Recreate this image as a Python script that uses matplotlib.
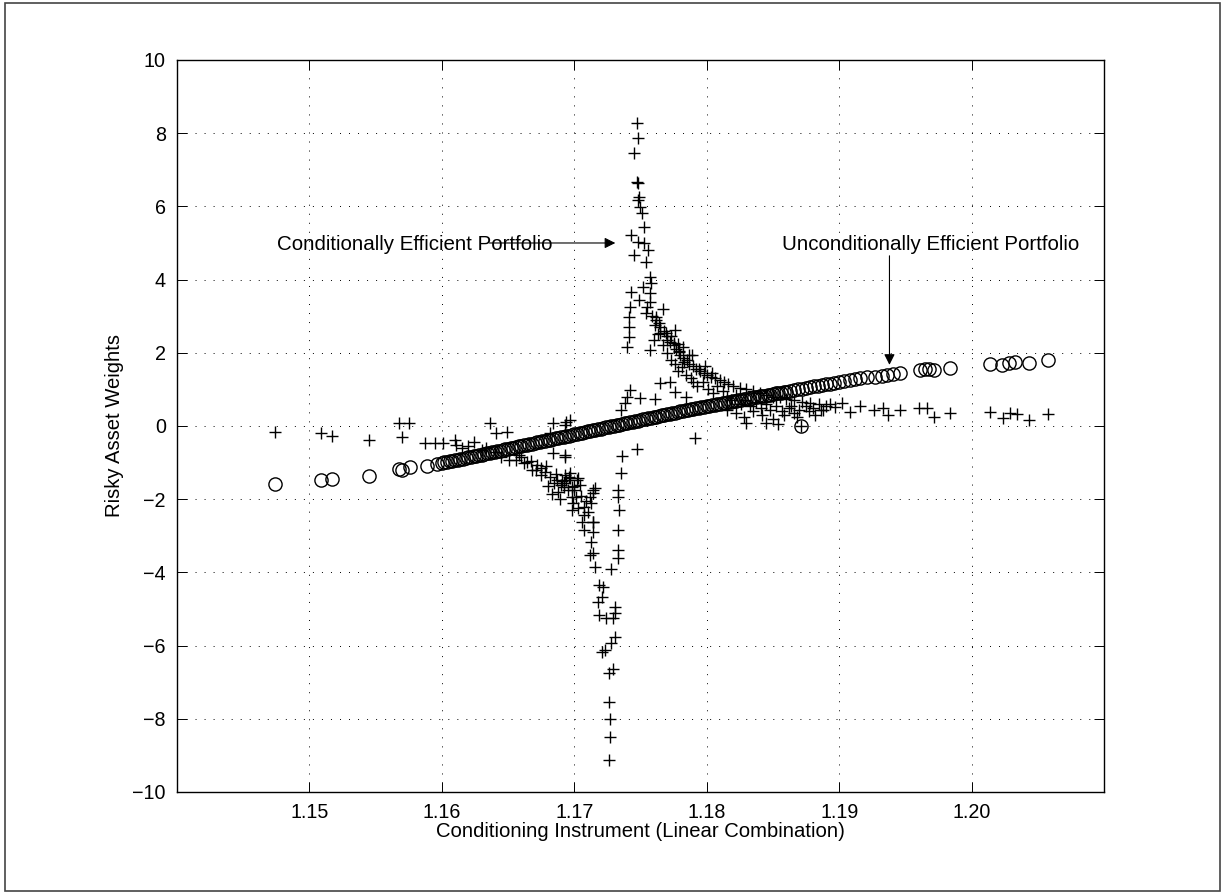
import matplotlib
matplotlib.use("Agg")
import matplotlib.pyplot as plt
from matplotlib.patches import Rectangle

# unconditionally efficient weights (circles)
circ_x = [1.1474, 1.1509, 1.1517, 1.1545, 1.1568, 1.1570, 1.1576, 1.1589, 1.1596,
          1.1600, 1.1602, 1.1604, 1.1606, 1.1608, 1.1610, 1.1612, 1.1614, 1.1616, 1.1618,
          1.1620, 1.1622, 1.1624, 1.1626, 1.1628, 1.1630, 1.1632, 1.1634, 1.1636, 1.1638,
          1.1640, 1.1642, 1.1644, 1.1646, 1.1648, 1.1650, 1.1652, 1.1654, 1.1656, 1.1658,
          1.1660, 1.1662, 1.1664, 1.1666, 1.1668, 1.1670, 1.1672, 1.1674, 1.1676, 1.1678,
          1.1680, 1.1682, 1.1684, 1.1686, 1.1688, 1.1690, 1.1692, 1.1694, 1.1696, 1.1698,
          1.1700, 1.1702, 1.1704, 1.1706, 1.1708, 1.1710, 1.1712, 1.1714, 1.1716, 1.1718,
          1.1720, 1.1722, 1.1724, 1.1726, 1.1728, 1.1730, 1.1732, 1.1734, 1.1736, 1.1738,
          1.1740, 1.1742, 1.1744, 1.1746, 1.1748, 1.1750, 1.1752, 1.1754, 1.1756, 1.1758,
          1.1760, 1.1762, 1.1764, 1.1766, 1.1768, 1.1770, 1.1772, 1.1774, 1.1776, 1.1778,
          1.1780, 1.1782, 1.1784, 1.1786, 1.1788, 1.1790, 1.1792, 1.1794, 1.1796, 1.1798,
          1.1800, 1.1802, 1.1804, 1.1806, 1.1808, 1.1810, 1.1812, 1.1814, 1.1816, 1.1818,
          1.1820, 1.1822, 1.1824, 1.1826, 1.1828, 1.1830, 1.1832, 1.1834, 1.1836, 1.1838,
          1.1840, 1.1842, 1.1844, 1.1846, 1.1848, 1.1850, 1.1852, 1.1854, 1.1856, 1.1858,
          1.1860, 1.1863, 1.1866, 1.1869, 1.1872, 1.1875, 1.1878, 1.1881, 1.1884, 1.1887,
          1.1890, 1.1893, 1.1896, 1.1900, 1.1904, 1.1908, 1.1912, 1.1916,
          1.1921, 1.1927, 1.1932, 1.1936, 1.1941, 1.1946,
          1.1961, 1.1965, 1.1968, 1.1972, 1.1984,
          1.2014, 1.2023, 1.2028, 1.2033, 1.2043, 1.2058,
          1.1871]
circ_y = [-1.58, -1.48, -1.46, -1.37, -1.18, -1.21, -1.12, -1.10, -1.05,
          -1.01, -0.99, -0.98, -0.96, -0.95, -0.93, -0.92, -0.90, -0.89, -0.87,
          -0.85, -0.84, -0.82, -0.81, -0.79, -0.78, -0.76, -0.75, -0.73, -0.71,
          -0.70, -0.68, -0.67, -0.65, -0.64, -0.62, -0.60, -0.59, -0.57, -0.56,
          -0.54, -0.53, -0.51, -0.49, -0.48, -0.46, -0.45, -0.43, -0.42, -0.40,
          -0.39, -0.37, -0.35, -0.34, -0.32, -0.31, -0.29, -0.28, -0.26, -0.24,
          -0.23, -0.21, -0.20, -0.18, -0.17, -0.15, -0.14, -0.12, -0.10, -0.09,
          -0.07, -0.06, -0.04, -0.03, -0.01, 0.00, 0.02, 0.04, 0.05, 0.07,
          0.08, 0.10, 0.11, 0.13, 0.15, 0.16, 0.18, 0.19, 0.21, 0.22,
          0.24, 0.25, 0.27, 0.29, 0.30, 0.32, 0.33, 0.35, 0.36, 0.38,
          0.40, 0.41, 0.43, 0.44, 0.46, 0.47, 0.49, 0.50, 0.51, 0.53,
          0.54, 0.55, 0.57, 0.58, 0.59, 0.61, 0.62, 0.63, 0.65, 0.66,
          0.67, 0.69, 0.70, 0.71, 0.73, 0.74, 0.75, 0.77, 0.78, 0.79,
          0.81, 0.82, 0.83, 0.85, 0.86, 0.87, 0.89, 0.90, 0.91, 0.93,
          0.94, 0.96, 0.98, 1.00, 1.02, 1.04, 1.06, 1.08, 1.10, 1.12,
          1.14, 1.16, 1.18, 1.21, 1.23, 1.26, 1.29, 1.31,
          1.33, 1.35, 1.37, 1.39, 1.41, 1.46,
          1.53, 1.55, 1.55, 1.53, 1.59,
          1.69, 1.67, 1.73, 1.74, 1.71, 1.80,
          0.00]

# conditionally efficient weights (plus signs)
plus_x = [
    # far left / lower-left branch
    1.1474, 1.1509, 1.1517, 1.1545, 1.1568, 1.1575, 1.1570, 1.1587, 1.1595, 1.1601,
    1.1610, 1.1611, 1.1615, 1.1620, 1.1624, 1.1630, 1.1636, 1.1640, 1.1641, 1.1649,
    1.1651, 1.1656, 1.1660, 1.1664, 1.1667, 1.1672, 1.1675, 1.1682, 1.1684, 1.1684,
    1.1693, 1.1694, 1.1675, 1.1678, 1.1680, 1.1682, 1.1685, 1.1687, 1.1688, 1.1690,
    1.1692, 1.1693, 1.1695, 1.1697, 1.1698, 1.1700, 1.1702, 1.1714,
    1.1697, 1.1693, 1.1693, 1.1694, 1.1697, 1.1703, 1.1692, 1.1698, 1.1701, 1.1698,
    1.1703, 1.1707, 1.1712, 1.1713, 1.1714, 1.1716, 1.1714, 1.1707, 1.1706, 1.1707,
    1.1714, 1.1713, 1.1714, 1.1716, 1.1712, 1.1714, 1.1719, 1.1722, 1.1721, 1.1718,
    1.1719, 1.1724, 1.1731, 1.1731, 1.1729, 1.1731, 1.1728, 1.1723, 1.1721, 1.1729,
    1.1726, 1.1726, 1.1727, 1.1727, 1.1726,
    1.1671, 1.1679, 1.1686, 1.1691, 1.1696, 1.1700, 1.1704, 1.1709, 1.1683, 1.1689,
    1.1699, 1.1705, 1.1710, 1.1662, 1.1668, 1.1658, 1.1645, 1.1633,
    # lower column near 1.1733
    1.1736, 1.1747, 1.1735, 1.1733, 1.1733, 1.1734, 1.1733, 1.1733, 1.1733, 1.1728,
    # column above the band
    1.1735, 1.1738, 1.1740, 1.1742, 1.1750, 1.1761, 1.1765, 1.1772, 1.1776, 1.1784,
    1.1791,
    # upper branch
    1.1747, 1.1748, 1.1745, 1.1747, 1.1748, 1.1749, 1.1748, 1.1750, 1.1751, 1.1753,
    1.1743, 1.1748, 1.1753, 1.1756, 1.1745, 1.1754, 1.1757, 1.1758, 1.1743, 1.1749,
    1.1757, 1.1757, 1.1742, 1.1741, 1.1741, 1.1741, 1.1740, 1.1762, 1.1767, 1.1764,
    1.1754, 1.1776, 1.1760, 1.1765, 1.1770, 1.1775, 1.1779, 1.1757, 1.1787,
    1.1752, 1.1755, 1.1759, 1.1761, 1.1769, 1.1773, 1.1778, 1.1782,
    # dense cluster, upper right
    1.1762, 1.1765, 1.1768, 1.1770, 1.1772, 1.1775, 1.1777, 1.1780, 1.1782, 1.1785,
    1.1787, 1.1790, 1.1792, 1.1795, 1.1798, 1.1800, 1.1803, 1.1806, 1.1810, 1.1813,
    1.1816, 1.1820, 1.1825, 1.1830, 1.1835, 1.1840, 1.1845, 1.1850, 1.1855, 1.1860,
    1.1866, 1.1872, 1.1878, 1.1885,
    1.1763, 1.1767, 1.1770, 1.1773, 1.1776, 1.1778, 1.1781, 1.1784, 1.1788, 1.1790,
    1.1793, 1.1797, 1.1801, 1.1805, 1.1808, 1.1812, 1.1815, 1.1818, 1.1822, 1.1826,
    1.1829, 1.1833, 1.1837, 1.1841, 1.1845, 1.1848, 1.1852, 1.1857, 1.1862, 1.1866,
    1.1870, 1.1875, 1.1880, 1.1886, 1.1890, 1.1893,
    1.1815, 1.1822, 1.1828, 1.1835, 1.1842, 1.1850, 1.1858, 1.1864, 1.1868, 1.1877,
    1.1882, 1.1888, 1.1779, 1.1783, 1.1789, 1.1794, 1.1799, 1.1804,
    # right tail
    1.1897, 1.1902, 1.1908, 1.1916, 1.1926, 1.1933, 1.1937, 1.1946, 1.1960, 1.1966,
    1.1972, 1.1984, 1.2014, 1.2024, 1.2029, 1.2034, 1.2043, 1.2058,
    1.1830, 1.1845, 1.1854, 1.1871,
]
plus_y = [
    -0.16, -0.20, -0.27, -0.38, 0.07, 0.07, -0.31, -0.46, -0.46, -0.47,
    -0.38, -0.52, -0.61, -0.55, -0.43, -0.66, 0.07, -0.72, -0.20, -0.16,
    -0.93, -0.93, -0.85, -0.98, -0.95, -1.07, -1.16, -0.20, 0.07, -0.75,
    -0.79, 0.12, -1.34, -1.25, -1.65, -1.39, -1.55, -1.48, -1.80, -1.60,
    -1.66, -1.35, -1.75, -1.43, -1.95, -1.65, -1.48, -1.75,
    0.16, 0.03, -0.84, -1.48, -1.29, -1.43, -1.57, -1.66, -1.93, -2.30,
    -2.25, -2.20, -1.93, -2.11, -1.84, -1.70, -2.61, -2.84, -2.61, -2.43,
    -2.89, -3.16, -3.46, -3.84, -3.52, -2.61, -4.34, -4.39, -4.66, -4.80,
    -5.16, -5.25, -4.94, -5.12, -5.25, -5.76, -5.94, -6.12, -6.17, -6.65,
    -6.76, -7.53, -8.01, -8.51, -9.13,
    -1.20, -1.10, -1.30, -1.50, -1.40, -1.75, -1.60, -2.05, -1.85, -2.00,
    -2.10, -1.90, -2.35, -1.00, -1.20, -0.80, -0.85, -0.60,
    -0.82, -0.64, -1.29, -1.75, -1.93, -2.30, -2.84, -3.39, -3.61, -3.92,
    0.44, 0.62, 0.80, 0.98, 0.76, 0.73, 1.17, 1.21, 0.94, 0.80,
    -0.34,
    8.29, 7.88, 7.47, 6.68, 6.63, 6.27, 6.17, 5.99, 5.81, 5.45,
    5.22, 5.04, 4.99, 4.81, 4.67, 4.47, 4.08, 3.90, 3.67, 3.44,
    3.63, 3.40, 3.26, 2.99, 2.71, 2.44, 2.17, 2.99, 3.21, 2.81,
    3.08, 2.62, 2.35, 2.53, 2.35, 2.26, 2.03, 2.08, 1.94,
    3.80, 3.25, 3.00, 2.75, 2.55, 2.45, 2.25, 2.15,
    2.90, 2.70, 2.60, 2.45, 2.30, 2.20, 2.10, 1.95, 1.85, 1.80,
    1.70, 1.65, 1.55, 1.50, 1.45, 1.40, 1.35, 1.30, 1.25, 1.20,
    1.15, 1.10, 1.05, 1.00, 0.95, 0.90, 0.85, 0.80, 0.78, 0.75,
    0.70, 0.65, 0.62, 0.60,
    2.50, 2.20, 2.00, 1.80, 1.70, 1.50, 1.60, 1.40, 1.30, 1.20,
    1.10, 1.20, 1.00, 0.90, 1.10, 0.95, 0.80, 0.70, 0.85, 0.60,
    0.70, 0.55, 0.65, 0.50, 0.60, 0.45, 0.55, 0.40, 0.50, 0.35,
    0.45, 0.55, 0.50, 0.45, 0.55, 0.60,
    0.45, 0.35, 0.25, 0.40, 0.30, 0.20, 0.30, 0.55, 0.25, 0.40,
    0.30, 0.45, 2.05, 1.75, 1.95, 1.55, 1.65, 1.45,
    0.53, 0.62, 0.39, 0.55, 0.44, 0.48, 0.30, 0.44, 0.48, 0.48,
    0.25, 0.35, 0.39, 0.21, 0.35, 0.33, 0.16, 0.33,
    0.09, 0.09, 0.05, 0.00,
]

x_ticks = [1.15, 1.16, 1.17, 1.18, 1.19, 1.20]
x_labels = ["1.15", "1.16", "1.17", "1.18", "1.19", "1.20"]
y_ticks = [-10, -8, -6, -4, -2, 0, 2, 4, 6, 8, 10]

plt.rcParams['font.family'] = ['Liberation Sans', 'DejaVu Sans']
plt.rcParams['lines.scale_dashes'] = False

fig = plt.figure(figsize=(12.23, 8.94), dpi=100)
ax = fig.add_axes([0.1447, 0.1141, 0.7580, 0.8188])

ax.plot(circ_x, circ_y, linestyle='none', marker='o', markersize=9.5,
        markerfacecolor='none', markeredgecolor='k', markeredgewidth=1.0)
ax.plot(plus_x, plus_y, linestyle='none', marker='+', markersize=9,
        markeredgecolor='k', markeredgewidth=1.0)

ax.set_xlim(1.14, 1.21)
ax.set_ylim(-10, 10)
ax.set_xticks(x_ticks)
ax.set_xticklabels(x_labels)
ax.set_yticks(y_ticks)
ax.tick_params(direction='in', length=7, width=0.7, top=True, right=True,
               labelsize=14.2, pad=8)
ax.grid(True, color='k', linestyle=(0, (0.7, 5.8)), linewidth=0.7)
for s in ax.spines.values():
    s.set_linewidth(1.0)

ax.set_xlabel("Conditioning Instrument (Linear Combination)", fontsize=14.6, labelpad=0)
ax.set_ylabel("Risky Asset Weights", fontsize=14.6, labelpad=6)

# annotations
ax.text(1.14755, 4.95, "Conditionally Efficient Portfolio", fontsize=14.8, va='center')
ax.annotate("", xy=(1.1731, 5.0), xytext=(1.1636, 5.0),
            arrowprops=dict(arrowstyle='-|>', color='k', lw=0.8, mutation_scale=16,
                            shrinkA=0, shrinkB=0))
ax.text(1.18568, 4.95, "Unconditionally Efficient Portfolio", fontsize=14.8, va='center')
ax.annotate("", xy=(1.1938, 1.67), xytext=(1.1938, 4.65),
            arrowprops=dict(arrowstyle='-|>', color='k', lw=0.8, mutation_scale=16,
                            shrinkA=0, shrinkB=0))

fig.patches.append(Rectangle((5 / 1223, 3 / 894), 1215 / 1223, 888 / 894,
                             transform=fig.transFigure, fill=False,
                             edgecolor='#444444', linewidth=1.2))

fig.savefig("out.png", dpi=100)
